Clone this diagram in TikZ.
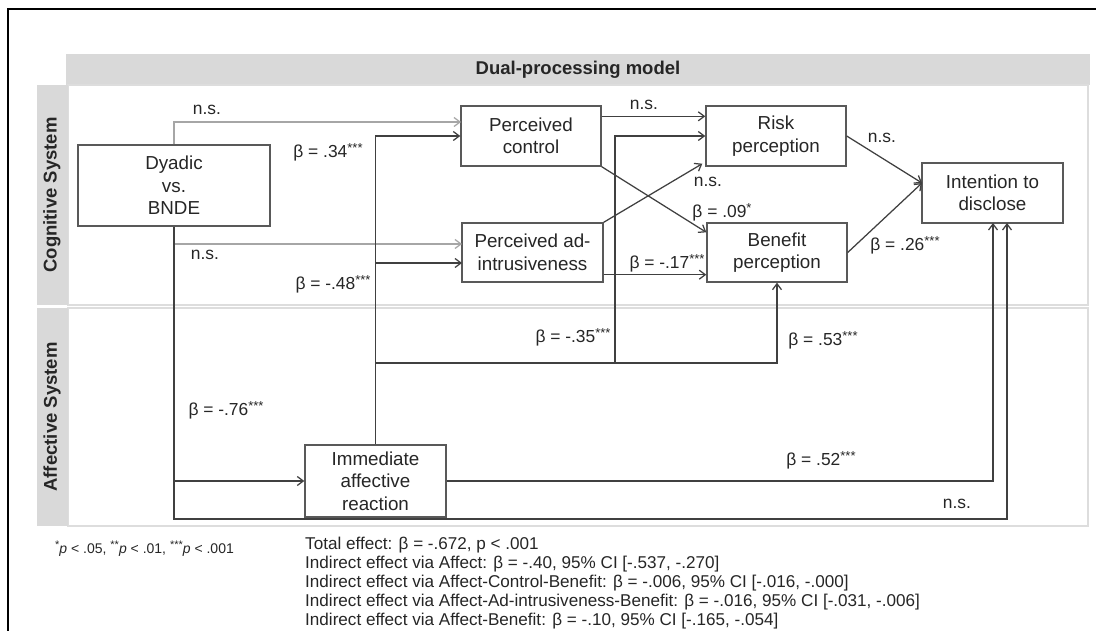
\documentclass[tikz,border=0pt]{standalone}
\usepackage{fontspec}
\setmainfont{Liberation Sans}
\usetikzlibrary{arrows.meta,calc}
\definecolor{bandgray}{HTML}{D9D9D9}
\definecolor{panelline}{HTML}{DDDDDD}
\definecolor{linec}{HTML}{404040}
\definecolor{boxc}{HTML}{595959}
\definecolor{nsgray}{HTML}{A6A6A6}
\definecolor{txt}{HTML}{262626}
\newcommand{\sst}[1]{\raisebox{0.3em}{\fontsize{13}{13}\selectfont #1}}
\newcommand{\fst}[1]{\raisebox{0.3em}{\fontsize{11}{11}\selectfont #1}}
\begin{document}
\begin{tikzpicture}[x=1pt,y=-1pt,
  box/.style={draw=boxc,line width=1.4pt,fill=white,text=txt,align=center,
    font=\fontsize{18.8}{22.5}\selectfont,inner sep=0pt},
  lab/.style={text=txt,font=\fontsize{17.4}{19}\selectfont,inner sep=0pt},
  foot/.style={text=txt,font=\fontsize{17.1}{19}\selectfont,inner sep=0pt,anchor=base west},
  conn/.style={draw=linec,line width=1.25pt,-{Straight Barb[length=6pt,width=9pt]}},
  grayconn/.style={draw=nsgray,line width=1.25pt,-{Straight Barb[length=6pt,width=9pt]}},
  head/.style={text=txt,font=\bfseries\fontsize{18.5}{21}\selectfont,inner sep=0pt},
  panel/.style={draw=panelline,line width=1.5pt,fill=white}
]
\useasboundingbox (0,0) rectangle (1096,631);
\fill[white] (0,0) rectangle (1096,631);

% frame
\draw[black,line width=1.6pt] (8,640) -- (8,9) -- (1100,9);

% panels
\fill[bandgray] (66,54) rectangle (1090,85);
\node[head] (title) at (578,70) {Dual-processing model};
\draw[panel] (68,85) rectangle (1088,305);
\fill[bandgray] (37,85) rectangle (68,305);
\draw[panel] (68,308) rectangle (1088,526);
\fill[bandgray] (37,308) rectangle (68,526);
\node[head,rotate=90] (cogl) at (52,195) {Cognitive System};
\node[head,rotate=90] (affl) at (52,417) {Affective System};

% nodes
\node[box,minimum width=192pt,minimum height=81pt] (dyad) at (174,185.5) {Dyadic\\vs.\\BNDE};
\node[box,minimum width=140pt,minimum height=60pt] (ctrl) at (531,136) {Perceived\\control};
\node[box,minimum width=141pt,minimum height=59pt] (intr) at (532.5,252.5) {Perceived ad-\\intrusiveness};
\node[box,minimum width=140pt,minimum height=60pt] (risk) at (776,136) {Risk\\perception};
\node[box,minimum width=140pt,minimum height=59pt] (ben) at (777,252.5) {Benefit\\perception};
\node[box,minimum width=141pt,minimum height=60pt] (intent) at (992.5,193) {Intention to\\disclose};
\node[box,minimum width=141pt,minimum height=72pt] (imm) at (375.5,481) {Immediate\\affective\\reaction};

% helper coordinates
\coordinate (cgray) at (461,122);
\coordinate (igray) at (462,244);
\coordinate (iblk) at (462,263);
\coordinate (dbot) at (174,519);
\coordinate (iout) at (1007,223);
\coordinate (iin) at (993,223);
\coordinate (h0) at (375.5,363);
\coordinate (rv) at (615,363);
\coordinate (ijoin) at (922,183);

% connectors
\draw[grayconn] (dyad.north) |- (cgray);
\draw[grayconn] (dyad.south |- igray) -- (igray);
\draw[conn] (dyad.south) -- (dbot) -| (iout);
\draw[conn] (dyad.south |- imm.west) -- (imm.west);
\draw[conn] (imm.north) |- (ctrl.west);
\draw[conn] (imm.north |- iblk) -- (iblk);
\draw[conn] (h0) -| (ben.south);
\draw[conn] (rv) |- (risk.west);
\draw[conn] (imm.east) -| (iin);
\draw[conn] ($(ctrl.north east)+(0,11)$) -- ($(risk.north west)+(0,11)$);
\draw[conn] (intr.north east) -- ($(risk.south west)+(-3,-3)$);
\draw[conn] (ctrl.south east) -- ($(ben.north west)+(0,10)$);
\draw[conn] ($(intr.south east)+(0,-8)$) -- ($(ben.south west)+(0,-8)$);
\draw[conn] (risk.east) -- (ijoin);
\draw[conn] (ben.east) -- (ijoin);

% labels
\node[lab] (l1) at (207,110) {n.s.};
\node[lab] (l2) at (205,255) {n.s.};
\node[lab] (l3) at (328,152) {β = .34\sst{***}};
\node[lab] (l4) at (333,284) {β = -.48\sst{***}};
\node[lab] (l5) at (644,105) {n.s.};
\node[lab] (l6) at (708,182) {n.s.};
\node[lab] (l7) at (722,212) {β = .09\sst{*}};
\node[lab] (l8) at (667,263) {β = -.17\sst{***}};
\node[lab] (l9) at (882,138) {n.s.};
\node[lab] (l10) at (905,245) {β = .26\sst{***}};
\node[lab] (l11) at (573,337) {β = -.35\sst{***}};
\node[lab] (l12) at (823,340) {β = .53\sst{***}};
\node[lab] (l13) at (226,410) {β = -.76\sst{***}};
\node[lab] (l14) at (821,460) {β = .52\sst{***}};
\node[lab] (l15) at (957,504) {n.s.};

% footnotes
\node[anchor=base west,text=txt,font=\fontsize{14}{16}\selectfont,inner sep=0pt] (fn) at (55,553)
  {\fst{*}\textit{p} < .05, \fst{**}\textit{p} < .01, \fst{***}\textit{p} < .001};
\node[foot] (f1) at (305,549) {Total effect: β = -.672, p < .001};
\node[foot] (f2) at (305,568) {Indirect effect via Affect: β = -.40, 95\% CI [-.537, -.270]};
\node[foot] (f3) at (305,587) {Indirect effect via Affect-Control-Benefit: β = -.006, 95\% CI [-.016, -.000]};
\node[foot] (f4) at (305,606) {Indirect effect via Affect-Ad-intrusiveness-Benefit: β = -.016, 95\% CI [-.031, -.006]};
\node[foot] (f5) at (305,625) {Indirect effect via Affect-Benefit: β = -.10, 95\% CI [-.165, -.054]};
\end{tikzpicture}
\end{document}
